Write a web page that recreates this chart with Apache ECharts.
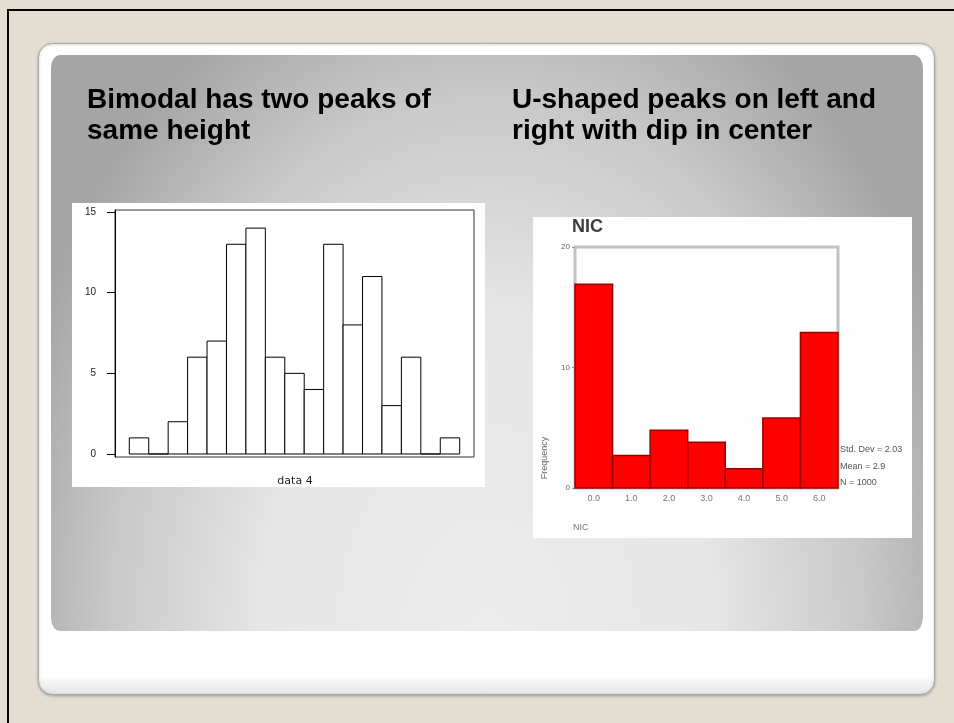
<!DOCTYPE html>
<html>
<head>
<meta charset="utf-8">
<title>Bimodal / U-shaped</title>
<script src="https://cdn.jsdelivr.net/npm/echarts@6/dist/echarts.min.js"></script>
<style>
  html, body { margin: 0; padding: 0; background: #e3ddd2; }
  #chart { width: 954px; height: 723px; }
</style>
</head>
<body>
<div id="chart"></div>
<script>
// left histogram (data 4), one count per bin
const countsLeft = [1, 0, 2, 6, 7, 13, 14, 6, 5, 4, 13, 8, 11, 3, 6, 0, 1]
const yTicksLeft = [0, 5, 10, 15]

// right histogram (NIC), 7 bins
const countsRight = [16.9, 2.7, 4.8, 3.8, 1.6, 5.8, 12.9]
const binLabelsRight = ['0.0', '1.0', '2.0', '3.0', '4.0', '5.0', '6.0']
const yTicksRight = [0, 10, 20]
const statsRight = ['Std. Dev = 2.03', 'Mean = 2.9', 'N = 1000']

const titleLeft = ['Bimodal has two peaks of', 'same height']
const titleRight = ['U-shaped peaks on left and', 'right with dip in center']

const chart = echarts.init(document.getElementById('chart'))

// histogram bar: bin i spans [i, i+1] on the value axis
function histBar(fill, stroke, lw) {
  return function (params, api) {
    const i = api.value(0)
    const v = api.value(1)
    const p0 = api.coord([i, 0])
    const p1 = api.coord([i + 1, v])
    return {
      type: 'rect',
      shape: { x: p0[0], y: p1[1], width: p1[0] - p0[0], height: p0[1] - p1[1] },
      style: { fill: fill, stroke: stroke, lineWidth: lw }
    }
  }
}

function titleText(lines, x) {
  return lines.map((t, k) => ({
    type: 'text', x: x, y: 100 + k * 31, z: 5,
    style: {
      text: t, fill: '#000', font: 'bold 28px "Liberation Sans", Arial, sans-serif',
      textAlign: 'left', textVerticalAlign: 'middle'
    }
  }))
}

const sx = 500 / 720
const bg = [
  // slide frame
  { type: 'rect', z: -10, shape: { x: 0, y: 0, width: 954, height: 723 }, style: { fill: '#e3ddd2' } },
  { type: 'line', z: -9, shape: { x1: 7, y1: 10, x2: 954, y2: 10 }, style: { stroke: '#000', lineWidth: 2 } },
  { type: 'line', z: -9, shape: { x1: 8, y1: 10, x2: 8, y2: 723 }, style: { stroke: '#000', lineWidth: 2 } },
  {
    type: 'rect', z: -8,
    shape: { x: 38.5, y: 43.5, width: 896, height: 651, r: 14 },
    style: {
      fill: { type: 'linear', x: 0, y: 0, x2: 0, y2: 1, colorStops: [
        { offset: 0, color: '#ffffff' }, { offset: 0.97, color: '#ffffff' }, { offset: 1, color: '#e2e2e2' }] },
      stroke: '#a9a9a9', lineWidth: 1,
      shadowBlur: 3, shadowOffsetY: 1, shadowColor: 'rgba(0,0,0,0.25)'
    }
  },
  // gray panel with elliptical radial gradient (rect scaled on x)
  {
    type: 'rect', z: -7, x: 51, y: 55, scaleX: sx,
    shape: { x: 0, y: 0, width: 872 / sx, height: 576, r: 13 },
    style: {
      fill: { type: 'radial', x: 0.5, y: 585 / 576, r: 720 / 576, colorStops: [
        { offset: 0, color: '#ececec' }, { offset: 0.45, color: '#e6e6e6' },
        { offset: 0.75, color: '#c9c9c9' }, { offset: 1, color: '#a5a5a5' }] }
    }
  },
  // pasted chart images
  { type: 'rect', z: -6, shape: { x: 72, y: 203, width: 413, height: 284 }, style: { fill: '#ffffff' } },
  { type: 'rect', z: -6, shape: { x: 533, y: 217, width: 379, height: 321 }, style: { fill: '#fdfdfd' } }
]

const extraText = [
  { type: 'text', x: 295, y: 481, z: 5, style: { text: 'data 4', fill: '#222', font: '11px "DejaVu Sans", sans-serif', textAlign: 'center', textVerticalAlign: 'middle' } },
  { type: 'text', x: 572, y: 227, z: 5, style: { text: 'NIC', fill: '#3c3c3c', font: 'bold 18px "Liberation Sans", Arial, sans-serif', textAlign: 'left', textVerticalAlign: 'middle' } },
  { type: 'text', x: 545, y: 458, z: 5, rotation: Math.PI / 2, style: { text: 'Frequency', fill: '#666', font: '9px "Liberation Sans", Arial, sans-serif', textAlign: 'center', textVerticalAlign: 'middle' } },
  { type: 'text', x: 573, y: 528, z: 5, style: { text: 'NIC', fill: '#777', font: '9px "Liberation Sans", Arial, sans-serif', textAlign: 'left', textVerticalAlign: 'middle' } }
].concat(statsRight.map((t, k) => ({
  type: 'text', x: 840, y: 450 + k * 16.5, z: 5,
  style: { text: t, fill: '#555', font: '9px "Liberation Sans", Arial, sans-serif', textAlign: 'left', textVerticalAlign: 'middle' }
})))

const option = {
  animation: false,
  graphic: { elements: bg.concat(titleText(titleLeft, 87), titleText(titleRight, 512), extraText) },
  grid: [
    { left: 115, top: 210, width: 359, height: 247, show: true, borderColor: '#333', borderWidth: 1, backgroundColor: 'transparent' },
    { left: 575, top: 247, width: 263, height: 241, show: true, borderColor: '#c2c2c2', borderWidth: 3, backgroundColor: 'transparent' }
  ],
  xAxis: [
    {
      gridIndex: 0, type: 'value', min: -0.735, max: 17.735,
      axisLine: { show: false }, axisTick: { show: false }, axisLabel: { show: false }, splitLine: { show: false }
    },
    {
      gridIndex: 1, type: 'value', min: 0, max: 7,
      axisLine: { show: false }, splitLine: { show: false },
      axisTick: { show: false },
      axisLabel: {
        customValues: binLabelsRight.map((l, i) => i + 0.5),
        formatter: v => binLabelsRight[Math.floor(v)],
        color: '#777', fontSize: 9, margin: 6
      }
    }
  ],
  yAxis: [
    {
      gridIndex: 0, type: 'value', min: -0.186, max: 15.124,
      axisLine: { show: true, onZero: false, lineStyle: { color: '#000', width: 1 } },
      axisTick: { show: true, customValues: yTicksLeft, length: 8, lineStyle: { color: '#000' } },
      axisLabel: { customValues: yTicksLeft, color: '#222', fontSize: 10, margin: 19, fontFamily: 'Liberation Sans' },
      splitLine: { show: false }
    },
    {
      gridIndex: 1, type: 'value', min: 0, max: 20,
      axisLine: { show: false, onZero: false },
      axisTick: { show: true, customValues: yTicksRight, length: 3, lineStyle: { color: '#999' } },
      axisLabel: { customValues: yTicksRight, color: '#666', fontSize: 8, margin: 5 },
      splitLine: { show: false }
    }
  ],
  series: [
    {
      type: 'custom', xAxisIndex: 0, yAxisIndex: 0,
      renderItem: histBar('#ffffff', '#000000', 1),
      data: countsLeft.map((v, i) => [i, v])
    },
    {
      type: 'custom', xAxisIndex: 1, yAxisIndex: 1,
      renderItem: histBar('#ff0000', '#9c0000', 1.5),
      data: countsRight.map((v, i) => [i, v])
    }
  ]
}
chart.setOption(option)
</script>
</body>
</html>
